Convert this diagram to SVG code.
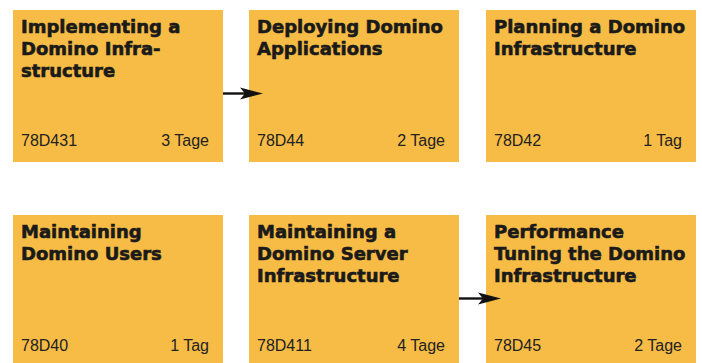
<svg xmlns="http://www.w3.org/2000/svg" width="702" height="363" viewBox="0 0 702 363">
<style>
.box{fill:#F7BC45}
.t{font-family:"DejaVu Sans",sans-serif;font-weight:bold;font-size:18px;fill:#1a1a1a;stroke:#1a1a1a;stroke-width:0.6}
.c{font-family:"Liberation Sans",Arial,sans-serif;font-size:16px;fill:#222}
.r{text-anchor:end}
.ln{stroke:#111;stroke-width:2.4;fill:none}
.hd{fill:#111}
</style>
<rect width="702" height="363" fill="#fff"/>
<g id="n1"><rect class="box" x="13" y="10" width="210" height="152"/>
<text class="t" x="21" y="33">Implementing a</text><text class="t" x="21" y="55">Domino Infra-</text><text class="t" x="21" y="77">structure</text>
<text class="c" x="21" y="146">78D431</text><text class="c r" x="209" y="146">3 Tage</text></g>
<g id="n2"><rect class="box" x="249" y="10" width="210" height="152"/>
<text class="t" x="257" y="33">Deploying Domino</text><text class="t" x="257" y="55">Applications</text>
<text class="c" x="257" y="146">78D44</text><text class="c r" x="445" y="146">2 Tage</text></g>
<g id="n3"><rect class="box" x="486" y="10" width="210" height="152"/>
<text class="t" x="494" y="33">Planning a Domino</text><text class="t" x="494" y="55">Infrastructure</text>
<text class="c" x="494" y="146">78D42</text><text class="c r" x="682" y="146">1 Tag</text></g>
<g id="n4"><rect class="box" x="13" y="215" width="210" height="148"/>
<text class="t" x="21" y="238">Maintaining</text><text class="t" x="21" y="260">Domino Users</text>
<text class="c" x="21" y="351">78D40</text><text class="c r" x="209" y="351">1 Tag</text></g>
<g id="n5"><rect class="box" x="249" y="215" width="210" height="148"/>
<text class="t" x="257" y="238">Maintaining a</text><text class="t" x="257" y="260">Domino Server</text><text class="t" x="257" y="282">Infrastructure</text>
<text class="c" x="257" y="351">78D411</text><text class="c r" x="445" y="351">4 Tage</text></g>
<g id="n6"><rect class="box" x="486" y="215" width="210" height="148"/>
<text class="t" x="494" y="238">Performance</text><text class="t" x="494" y="260">Tuning the Domino</text><text class="t" x="494" y="282">Infrastructure</text>
<text class="c" x="494" y="351">78D45</text><text class="c r" x="682" y="351">2 Tage</text></g>
<g id="connectors">
<line class="ln" x1="223" y1="93.5" x2="246" y2="93.5"/>
<path class="hd" d="M263,93.5 L240,87.5 L245,93.5 L240,99.5 Z"/>
<line class="ln" x1="459" y1="298.5" x2="484" y2="298.5"/>
<path class="hd" d="M501,298.5 L478,292.5 L483,298.5 L478,304.5 Z"/>
</g>
</svg>
